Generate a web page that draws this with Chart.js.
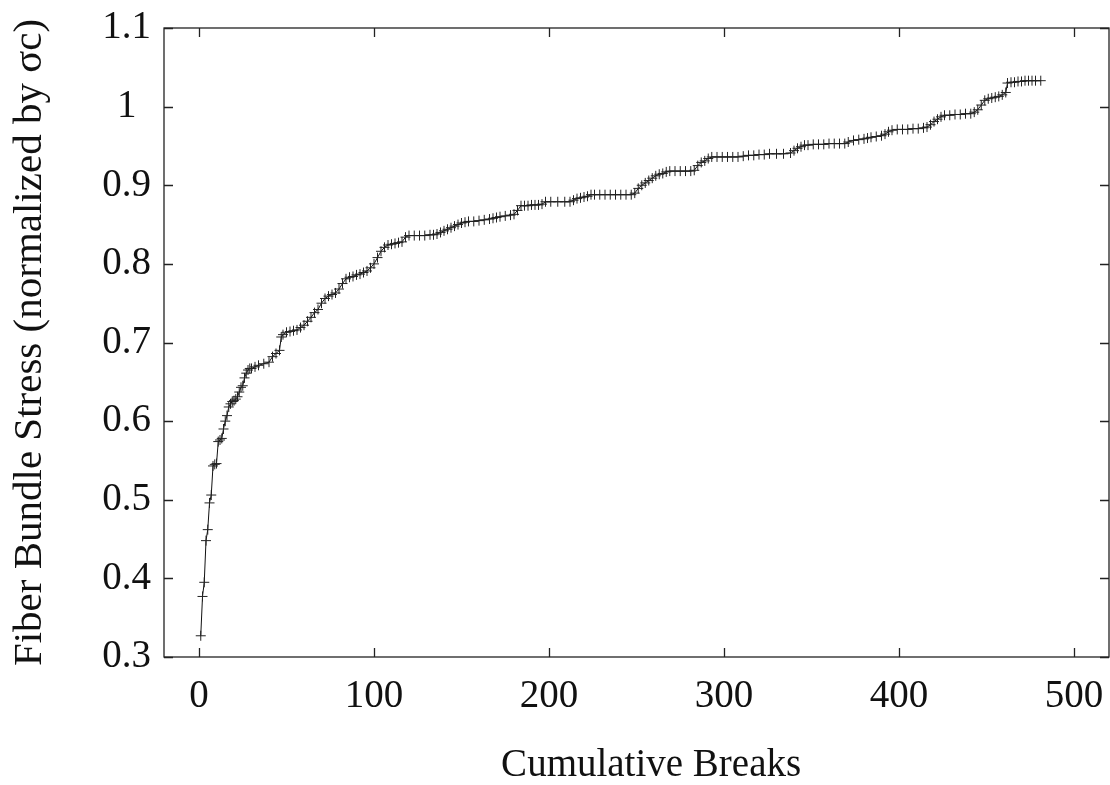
<!DOCTYPE html>
<html lang="en">
<head>
    <meta charset="UTF-8">
    <title>Fiber Bundle Stress</title>
    <script src="https://cdn.jsdelivr.net/npm/chart.js"></script>
    <style>
        body {
        margin: 0;
        padding: 0;
        overflow: hidden;
        background-color: #fff;
        }
        canvas {
        display: block;
        }
    </style>
</head>
<body>
    <!-- a few px wider than the window: Chart.js keeps ~6px at the right edge -->
    <canvas id="stressChart" width="1115" height="785"></canvas>

    <script>
        // cumulative break count (x) and bundle stress (y)
        const breaks = [
            1, 2, 3, 4, 5, 6, 7, 8, 9, 10,
            11, 12, 13, 14, 15, 16, 17, 18, 19, 20,
            21, 22, 23, 24, 25, 26, 27, 28, 29, 30,
            32, 34, 37, 40, 42, 44, 46, 47, 48, 50,
            52, 54, 56, 58, 60, 62, 64, 66, 68, 70,
            72, 74, 76, 78, 80, 82, 84, 86, 88, 90,
            92, 94, 96, 98, 100, 102, 104, 106, 108, 110,
            112, 114, 116, 118, 120, 123, 126, 129, 132, 134,
            136, 138, 140, 142, 144, 146, 148, 150, 152, 154,
            157, 160, 163, 166, 168, 170, 172, 175, 178, 180,
            182, 184, 186, 188, 190, 192, 194, 196, 198, 201,
            205, 209, 212, 214, 216, 218, 220, 222, 224, 226,
            229, 232, 235, 238, 241, 244, 247, 249, 251, 253,
            255, 257, 259, 261, 263, 265, 267, 269, 272, 275,
            278, 281, 283, 285, 287, 289, 291, 293, 296, 299,
            302, 305, 308, 311, 314, 317, 320, 323, 326, 330,
            334, 338, 340, 342, 344, 346, 348, 351, 354, 357,
            360, 363, 366, 369, 371, 374, 377, 380, 382, 384,
            387, 390, 392, 394, 396, 399, 402, 405, 408, 411,
            414, 416, 418, 420, 422, 424, 426, 429, 432, 435,
            438, 441, 443, 445, 447, 449, 451, 453, 455, 457,
            459, 461, 462, 464, 466, 468, 470, 472, 474, 476,
            478, 481
        ];
        const stress = [
            0.327, 0.377, 0.395, 0.448, 0.462, 0.496, 0.506, 0.543, 0.545, 0.546,
            0.574, 0.576, 0.578, 0.590, 0.600, 0.607, 0.618, 0.622, 0.625, 0.626,
            0.628, 0.631, 0.637, 0.643, 0.645, 0.655, 0.661, 0.665, 0.667, 0.667,
            0.669, 0.671, 0.673, 0.675, 0.682, 0.686, 0.690, 0.707, 0.710, 0.713,
            0.714, 0.715, 0.716, 0.719, 0.722, 0.727, 0.732, 0.738, 0.742, 0.750,
            0.756, 0.759, 0.761, 0.763, 0.768, 0.775, 0.781, 0.783, 0.784, 0.786,
            0.787, 0.789, 0.791, 0.795, 0.800, 0.808, 0.816, 0.821, 0.824, 0.825,
            0.826, 0.827, 0.828, 0.834, 0.836, 0.836, 0.836, 0.836, 0.837, 0.837,
            0.838, 0.840, 0.842, 0.844, 0.846, 0.848, 0.850, 0.852, 0.853, 0.854,
            0.854, 0.855, 0.856, 0.857, 0.858, 0.859, 0.860, 0.861, 0.862, 0.863,
            0.868, 0.874, 0.874, 0.874, 0.875, 0.875, 0.875, 0.876, 0.879, 0.879,
            0.879, 0.879, 0.879, 0.881, 0.883, 0.884, 0.885, 0.886, 0.888, 0.888,
            0.888, 0.888, 0.888, 0.888, 0.888, 0.888, 0.888, 0.890, 0.896, 0.900,
            0.903, 0.906, 0.909, 0.912, 0.914, 0.915, 0.917, 0.918, 0.918, 0.918,
            0.918, 0.918, 0.919, 0.925, 0.929, 0.931, 0.934, 0.936, 0.936, 0.936,
            0.936, 0.936, 0.936, 0.937, 0.938, 0.938, 0.939, 0.939, 0.940, 0.940,
            0.940, 0.941, 0.944, 0.947, 0.949, 0.951, 0.951, 0.952, 0.952, 0.952,
            0.953, 0.953, 0.953, 0.953, 0.955, 0.957, 0.958, 0.959, 0.960, 0.961,
            0.962, 0.963, 0.965, 0.968, 0.970, 0.971, 0.971, 0.971, 0.972, 0.972,
            0.973, 0.974, 0.977, 0.981, 0.984, 0.987, 0.989, 0.989, 0.990, 0.990,
            0.991, 0.991, 0.993, 0.996, 1.002, 1.008, 1.010, 1.011, 1.012, 1.013,
            1.015, 1.018, 1.030, 1.031, 1.031, 1.032, 1.032, 1.033, 1.033, 1.033,
            1.033, 1.033
        ];
        const xTicks = [0, 100, 200, 300, 400, 500];
        const yTicks = [0.3, 0.4, 0.5, 0.6, 0.7, 0.8, 0.9, 1.0, 1.1];

        const serif = "'Liberation Serif', 'DejaVu Serif', serif";

        // gnuplot style frame with inward ticks on all four sides
        const framePlugin = {
            id: 'frame',
            afterDraw(chart) {
                const ctx = chart.ctx;
                const a = chart.chartArea;
                const xs = chart.scales.x;
                const ys = chart.scales.y;
                const len = 9;
                ctx.save();
                ctx.strokeStyle = '#222';
                ctx.lineWidth = 1.3;
                ctx.strokeRect(a.left, a.top, a.right - a.left, a.bottom - a.top);
                ctx.beginPath();
                xTicks.forEach(v => {
                    const px = Math.round(xs.getPixelForValue(v)) + 0.5;
                    ctx.moveTo(px, a.bottom); ctx.lineTo(px, a.bottom - len);
                    ctx.moveTo(px, a.top); ctx.lineTo(px, a.top + len);
                });
                yTicks.forEach(v => {
                    const py = Math.round(ys.getPixelForValue(v)) + 0.5;
                    ctx.moveTo(a.left, py); ctx.lineTo(a.left + len, py);
                    ctx.moveTo(a.right, py); ctx.lineTo(a.right - len, py);
                });
                ctx.stroke();
                ctx.restore();
            }
        };

        const ctx = document.getElementById('stressChart').getContext('2d');
        const stressChart = new Chart(ctx, {
            type: 'scatter',
            data: {
                datasets: [{
                    data: breaks.map((b, i) => ({ x: b, y: stress[i] })),
                    showLine: true,
                    borderColor: '#111',
                    borderWidth: 1,
                    pointStyle: 'cross',
                    pointRadius: 5,
                    pointBorderWidth: 1,
                    pointBorderColor: '#222',
                    pointBackgroundColor: '#222',
                    tension: 0
                }]
            },
            options: {
                responsive: false,
                animation: false,
                events: [],
                layout: {
                    padding: { left: 0, top: 28, right: 0, bottom: 0 }
                },
                plugins: {
                    legend: { display: false },
                    tooltip: { enabled: false }
                },
                scales: {
                    x: {
                        type: 'linear',
                        min: -20,
                        max: 520,
                        afterBuildTicks: axis => { axis.ticks = xTicks.map(v => ({ value: v })); },
                        afterFit: axis => {
                            axis.height = 128;
                            axis.paddingLeft = 0;
                            axis.paddingRight = 0;
                        },
                        grid: { display: false, drawTicks: false },
                        border: { display: false },
                        ticks: {
                            color: '#111',
                            padding: 16,
                            maxRotation: 0,
                            font: { family: serif, size: 39 }
                        },
                        title: {
                            display: true,
                            text: '   Cumulative Breaks',
                            color: '#111',
                            padding: 0,
                            font: { family: serif, size: 39, lineHeight: 1 }
                        }
                    },
                    y: {
                        min: 0.3,
                        max: 1.1,
                        afterBuildTicks: axis => { axis.ticks = yTicks.map(v => ({ value: v })); },
                        afterFit: axis => {
                            axis.width = 164;
                            axis.paddingTop = 0;
                            axis.paddingBottom = 0;
                        },
                        grid: { display: false, drawTicks: false },
                        border: { display: false },
                        ticks: {
                            color: '#111',
                            padding: 13,
                            crossAlign: 'center',
                            font: { family: serif, size: 39 },
                            callback: v => String(Math.round(v * 10) / 10)
                        },
                        title: {
                            display: true,
                            text: 'Fiber Bundle Stress (normalized by σc)',
                            color: '#111',
                            padding: { top: 10, bottom: 0 },
                            font: { family: serif, size: 41, lineHeight: 1 }
                        }
                    }
                }
            },
            plugins: [framePlugin]
        });
    </script>
</body>
</html>
